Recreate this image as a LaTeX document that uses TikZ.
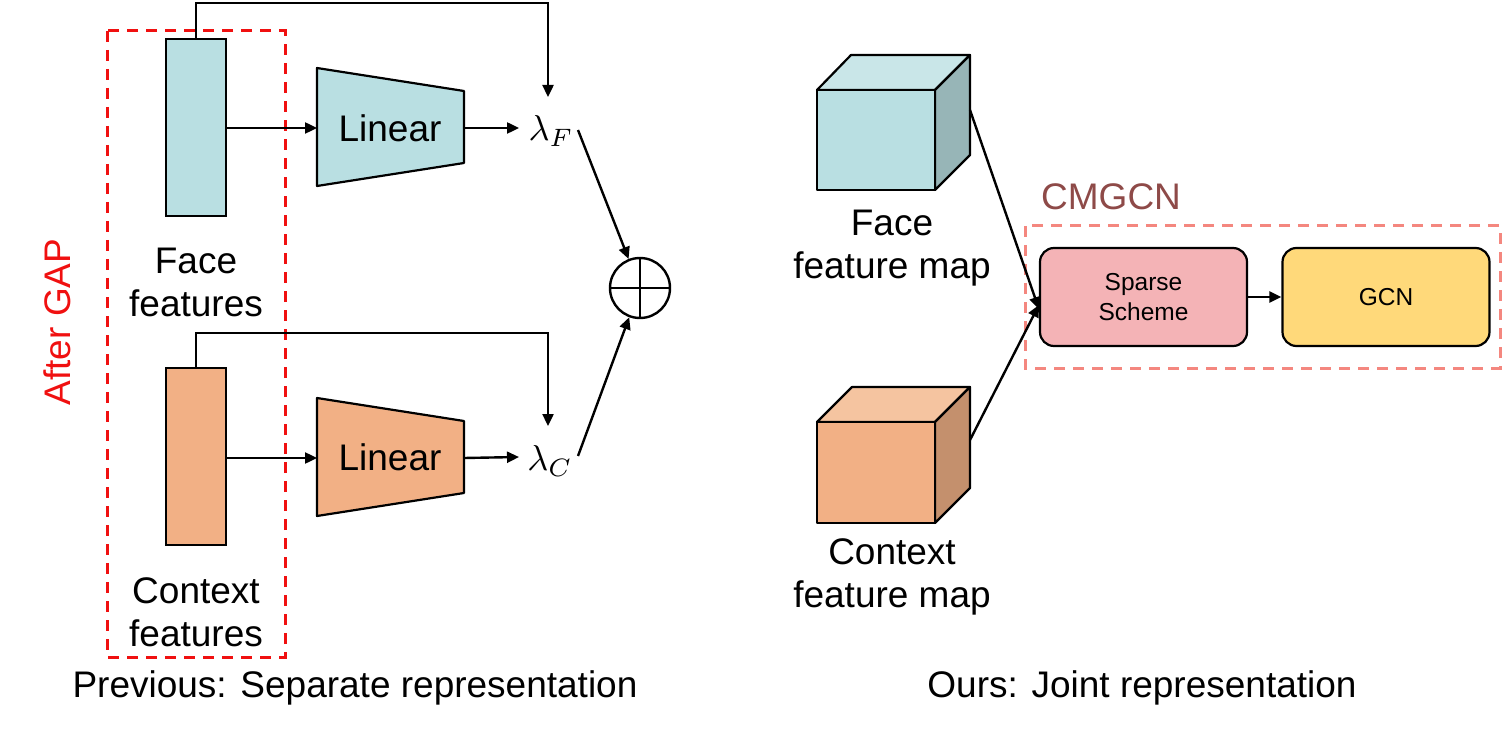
\documentclass[tikz,border=0pt]{standalone}
\usepackage{fontspec}
\setmainfont{Liberation Sans}
\usetikzlibrary{arrows.meta}
\definecolor{fblue}{HTML}{B9DFE2}
\definecolor{fbluetop}{HTML}{C9E6E8}
\definecolor{fblueside}{HTML}{97B5B7}
\definecolor{corange}{HTML}{F2B085}
\definecolor{corangetop}{HTML}{F5C4A0}
\definecolor{corangeside}{HTML}{C4906D}
\definecolor{gapred}{HTML}{F01010}
\definecolor{cmgcnred}{HTML}{F4877F}
\definecolor{cmgcntxt}{HTML}{8E4A48}
\definecolor{sparsepink}{HTML}{F4B3B6}
\definecolor{gcnyellow}{HTML}{FFD97A}
\tikzset{
  big/.style={font=\fontsize{37}{43}\selectfont, align=center},
  small/.style={font=\fontsize{24.5}{30}\selectfont, align=center},
  arr/.style={line width=2.4pt, -{Triangle[length=12pt,width=11pt]}},
  ln/.style={line width=2.4pt},
  bar/.style={draw, line width=2.2pt, minimum width=60pt, minimum height=177pt, inner sep=0pt},
  rbox/.style={draw, line width=2.2pt, rounded corners=14pt, minimum width=207pt, minimum height=98pt, inner sep=0pt},
  lam/.style={scale=3.6, inner sep=0pt},
  face/.style={draw, line width=2.2pt, line join=round},
  dsh/.style={line width=3pt, dash pattern=on 11pt off 8pt}
}
\begin{document}
\begin{tikzpicture}[x=1pt,y=-1pt]
\useasboundingbox (0,0) rectangle (1504,735);
% ---------------- left part ----------------
\draw[gapred, dsh] (107,31) rectangle (285,657);
\node[big, text=gapred, rotate=90, inner sep=0pt] (gap) at (57.5,322) {After GAP};

\node[bar, fill=fblue] (fbar) at (196,127.5) {};
\node[bar, fill=corange] (cbar) at (196,456.5) {};
\node[big] (ftxt) at (196,282) {Face\\features};
\node[big] (ctxt) at (196,612) {Context\\features};

% Linear trapezoids
\draw[face, fill=fblue] (317,68) -- (464,91) -- (464,163) -- (317,186) -- cycle;
\node[big] (linF) at (390,128) {Linear};
\draw[face, fill=corange] (317,398) -- (464,421) -- (464,493) -- (317,516) -- cycle;
\node[big] (linC) at (390,457) {Linear};
\coordinate (linFin) at (317,128);
\coordinate (linFout) at (464,128);
\coordinate (linCin) at (317,458);
\coordinate (linCout) at (464,458);

\node[lam] (lf) at (551,131) {$\lambda_F$};
\node[lam] (lc) at (550,461) {$\lambda_C$};
\coordinate (lfin) at (548,97);
\coordinate (lcin) at (548,426);
\coordinate (lfout) at (578,130);
\coordinate (lcout) at (578,456);
\coordinate (lfarr) at (519,128);
\coordinate (lcarr) at (519,457);

\draw[arr] (fbar.east |- linFin) -- (linFin);
\draw[arr] (cbar.east |- linCin) -- (linCin);
\draw[arr] (linFout) -- (lfarr);
\draw[arr] (linCout) -- (lcarr);
\draw[arr] (fbar.north) -- (196,3) -| (lfin);
\draw[arr] (cbar.north) -- (196,333) -| (lcin);

\node[circle, draw, line width=2.4pt, minimum size=60pt, inner sep=0pt] (plus) at (640,288) {};
\draw[ln] (plus.north) -- (plus.south) (plus.west) -- (plus.east);
\draw[arr] (lfout) -- (plus);
\draw[arr] (lcout) -- (plus);

\node[big] (prev) at (355,688) {Previous: Separate representation};

% ---------------- right part ----------------
% face cube
\draw[face, fill=fbluetop] (817,90) -- (851,55) -- (970,55) -- (935,90) -- cycle;
\draw[face, fill=fblueside] (935,90) -- (970,55) -- (970,155) -- (935,190) -- cycle;
\draw[face, fill=fblue] (817,90) rectangle (935,190);
% context cube
\draw[face, fill=corangetop] (817,422) -- (852,387) -- (970,387) -- (935,422) -- cycle;
\draw[face, fill=corangeside] (935,422) -- (970,387) -- (970,488) -- (935,523) -- cycle;
\draw[face, fill=corange] (817,422) rectangle (935,523);
\coordinate (fcube) at (970,110);
\coordinate (ccube) at (970,440);

\node[big] (fmap) at (892,248) {Face\\feature map};
\node[big] (cmap) at (892,577) {Context\\feature map};

\node[big, text=cmgcntxt, anchor=west, inner sep=0pt] (cmgcn) at (1041,197) {CMGCN};
\draw[cmgcnred, dsh] (1025,226) rectangle (1500,368);

\node[rbox, fill=sparsepink, small] (sparse) at (1143.5,297) {Sparse\\Scheme};
\node[rbox, fill=gcnyellow, small] (gcn) at (1386,297) {GCN};
\draw[arr] (sparse) -- (gcn);
\draw[arr] (fcube) -- ([yshift=-12pt]sparse.west);
\draw[arr] (ccube) -- ([yshift=-8pt]sparse.west);

\node[big] (ours) at (1142,688) {Ours: Joint representation};
\end{tikzpicture}
\end{document}
